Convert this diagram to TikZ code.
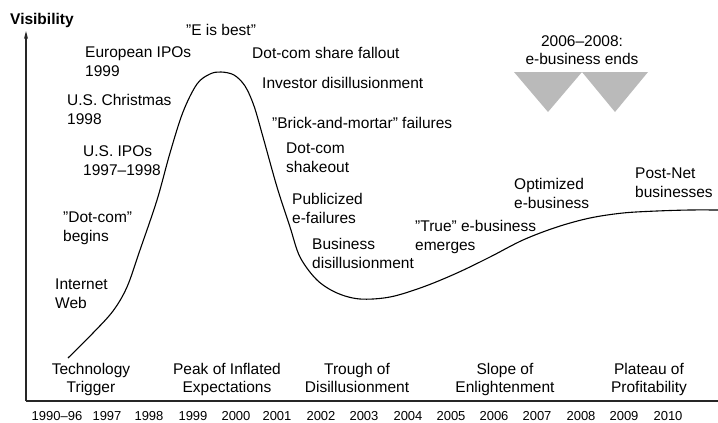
\documentclass[tikz,border=0pt]{standalone}
\usepackage{fontspec}
\setmainfont{Liberation Sans}
\usetikzlibrary{arrows.meta}
\begin{document}
\begin{tikzpicture}[x=1pt,y=-1pt,
  % multi-line labels are placed by the baseline of their last line
  lbl/.style={inner sep=0pt, font=\fontsize{15.5}{18.5}\selectfont, align=left, anchor=base west},
  phase/.style={inner sep=0pt, font=\fontsize{15.5}{18}\selectfont, align=center, anchor=base},
  yr/.style={inner sep=0pt, font=\fontsize{13}{15}\selectfont, anchor=base},
  axisline/.style={draw=black!85, line cap=butt},
  hype/.style={line width=1.1pt, black},
  drop/.style={fill=black!27, draw=none}]
\useasboundingbox (0,0) rectangle (718,423);

% axes
\coordinate (origin) at (26,401);
\coordinate (ytop) at (26,31);
\coordinate (xend) at (718,401);
\draw[axisline, line width=1.3pt, -{Stealth[length=8pt,width=4pt]}] (origin) -- (ytop);
\draw[axisline, line width=2pt] (origin) -- (xend);
\node[inner sep=0pt, anchor=base west, font=\fontsize{15.5}{18}\selectfont\bfseries] (vis) at (10,24) {Visibility};

% the hype curve
\draw[hype] plot[smooth, tension=0.55] coordinates {
  (68,358) (93,333) (113,311) (127,287) (140,250) (157,200) (170,153)
  (183,112) (197,84) (210,74) (221,72) (234,75) (245,86) (254,106)
  (263,137) (277,187) (290,227) (300,257) (317,280) (337,293) (360,299)
  (390,297) (423,287) (457,273) (490,257) (523,240) (557,227) (590,218)
  (623,213) (657,211) (690,210) (718,210)};

% end-of-era markers
\fill[drop] (514,72) -- (582,72) -- (548,112) -- cycle;
\fill[drop] (582,72) -- (648,72) -- (615,112) -- cycle;
\node[phase] (ends) at (582,64) {2006–2008:\\e-business ends};

% rising side
\node[lbl] (ebest) at (186,35) {"E is best"};
\node[lbl] (euro) at (85,76) {European IPOs\\1999};
\node[lbl] (xmas) at (67,124) {U.S. Christmas\\1998};
\node[lbl] (usipo) at (83,175) {U.S. IPOs\\1997–1998};
\node[lbl] (dotcom) at (63,241) {"Dot-com"\\begins};
\node[lbl] (inet) at (55,308) {Internet\\Web};

% falling side
\node[lbl] (fallout) at (252,58) {Dot-com share fallout};
\node[lbl] (investor) at (262,88) {Investor disillusionment};
\node[lbl] (brick) at (272,128) {"Brick-and-mortar" failures};
\node[lbl] (shake) at (286,172) {Dot-com\\shakeout};
\node[lbl] (publ) at (292,223) {Publicized\\e-failures};
\node[lbl] (busdis) at (312,268) {Business\\disillusionment};

% recovery
\node[lbl] (truee) at (415,250) {"True" e-business\\emerges};
\node[lbl] (optim) at (514,208) {Optimized\\e-business};
\node[lbl] (postnet) at (635,197) {Post-Net\\businesses};

% phases
\node[phase] (trigger) at (91,392) {Technology\\Trigger};
\node[phase] (peak) at (227,392) {Peak of Inflated\\Expectations};
\node[phase] (trough) at (357,392) {Trough of\\Disillusionment};
\node[phase] (slope) at (505,392) {Slope of\\Enlightenment};
\node[phase] (plateau) at (649,392) {Plateau of\\Profitability};

% years
\foreach \yname/\x in {1990–96/57, 1997/107, 1998/149, 1999/193, 2000/236,
  2001/277, 2002/321, 2003/364, 2004/408, 2005/451, 2006/494, 2007/537,
  2008/581, 2009/624, 2010/668}
  \node[yr] (yr\x) at (\x,420) {\yname};
\end{tikzpicture}
\end{document}
